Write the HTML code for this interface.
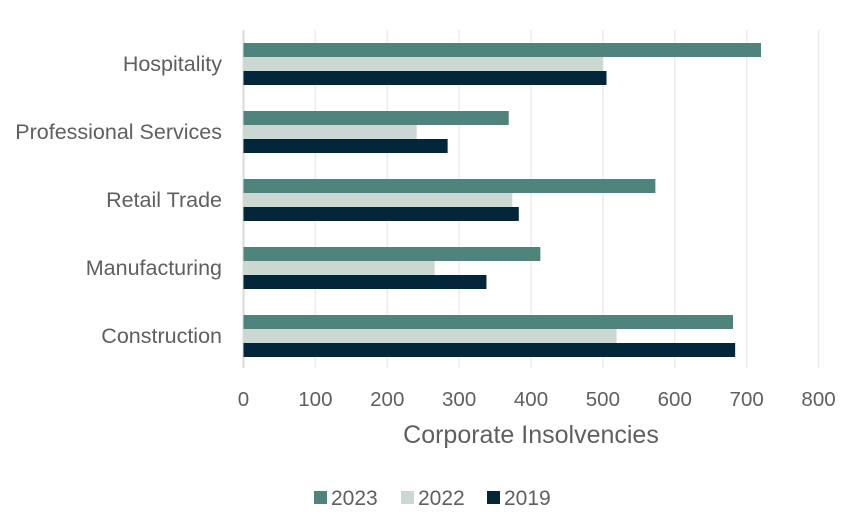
<!DOCTYPE html>
<html><head><meta charset="utf-8"><style>
body{margin:0;background:#fff;}
svg text{font-family:"Liberation Sans",sans-serif;fill:#5f5f5f;}
</style></head><body>
<svg id="chart" width="860" height="525"></svg>
<script>
const categories=["Hospitality","Professional Services","Retail Trade","Manufacturing","Construction"];
const series2023=[720,369,573,413,681];
const series2022=[500,241,374,266,519];
const series2019=[505,284,383,338,684];
const ticks=[0,100,200,300,400,500,600,700,800];
const seriesNames=["2023","2022","2019"];
const colors=["#4e847b","#cbd8d2","#03263a"];
const NS="http://www.w3.org/2000/svg";
const svg=document.getElementById("chart");
const x0=243.5,pxPer=0.7188,top0=30,band=68;
const xs=v=>x0+v*pxPer;
function mk(t,a){const e=document.createElementNS(NS,t);for(const k in a)e.setAttribute(k,a[k]);svg.appendChild(e);return e;}
ticks.forEach(t=>{
 const g=mk("line",{x1:xs(t),x2:xs(t),y1:top0,y2:368,stroke:t===0?"#d9d9d9":"#ececec","stroke-width":t===0?2:1.5});
 
 
 const l=mk("text",{x:xs(t),y:406,"text-anchor":"middle","font-size":20.5});
 l.textContent=t;
 
 
});
const all=[series2023,series2022,series2019];
categories.forEach((c,i)=>{
 const gy=top0+i*band+13;
 all.forEach((s,j)=>{
  const r=mk("rect",{x:x0,y:gy+j*14,width:xs(s[i])-x0,height:14,fill:colors[j]});
  
  
 });
 const t=mk("text",{x:222,y:top0+i*band+41,"text-anchor":"end","font-size":21.5});
 t.textContent=c;
 
 
});
const at=mk("text",{x:531,y:443,"text-anchor":"middle","font-size":25});
at.textContent="Corporate Insolvencies";


const lx=[314,401,487];
seriesNames.forEach((n,j)=>{
 const r=mk("rect",{x:lx[j],y:491,width:13,height:13,fill:colors[j]});
 
 
 const t=mk("text",{x:lx[j]+17,y:505,"font-size":21});
 t.textContent=n;
 
 
});
</script>
</body></html>
